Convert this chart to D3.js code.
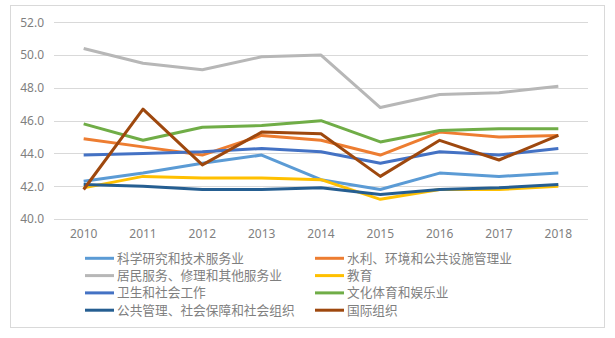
<!DOCTYPE html>
<html><head><meta charset="utf-8">
<script src="https://cdn.jsdelivr.net/npm/d3@7"></script>
<style>body{margin:0;background:#fff;}svg{display:block;}</style>
</head><body><svg id="c" width="615" height="338"></svg>
<script>
const years = ["2010","2011","2012","2013","2014","2015","2016","2017","2018"];
const yTicks = [40,42,44,46,48,50,52];
const seriesNames = ["科学研究和技术服务业","水利、环境和公共设施管理业","居民服务、修理和其他服务业","教育","卫生和社会工作","文化体育和娱乐业","公共管理、社会保障和社会组织","国际组织"];
const sciTech   = [42.3,42.8,43.4,43.9,42.4,41.8,42.8,42.6,42.8];
const water     = [44.9,44.4,43.9,45.1,44.8,43.9,45.3,45.0,45.1];
const resident  = [50.4,49.5,49.1,49.9,50.0,46.8,47.6,47.7,48.1];
const education = [41.9,42.6,42.5,42.5,42.4,41.2,41.8,41.8,42.0];
const health    = [43.9,44.0,44.1,44.3,44.1,43.4,44.1,43.9,44.3];
const culture   = [45.8,44.8,45.6,45.7,46.0,44.7,45.4,45.5,45.5];
const publicMgmt= [42.1,42.0,41.8,41.8,41.9,41.5,41.8,41.9,42.1];
const intlOrg   = [41.8,46.7,43.3,45.3,45.2,42.6,44.8,43.6,45.1];
const seriesValues = [sciTech,water,resident,education,health,culture,publicMgmt,intlOrg];
const colors = ["#5B9BD5","#ED7D31","#B7B7B7","#FFC000","#4472C4","#70AD47","#255E91","#9E480E"];

const svg = d3.select("#c");
svg.append("rect").attr("x",10.5).attr("y",5.5).attr("width",594).attr("height",322)
  .attr("fill","#fff").attr("stroke","#d9d9d9");

const L=54, R=588, T=22.3, B=219;
const x = d3.scaleBand().domain(years).range([L,R]);
const y = d3.scaleLinear().domain([40,52]).range([B,T]);
const cx = d => x(d)+x.bandwidth()/2;

svg.append("g").selectAll("line").data(yTicks).join("line")
  .attr("x1",L).attr("x2",R).attr("y1",d=>Math.round(y(d))+0.5).attr("y2",d=>Math.round(y(d))+0.5)
  .attr("stroke","#d9d9d9").attr("stroke-width",1);

const yAxis = svg.append("g").attr("transform",`translate(${L},0)`)
  .call(d3.axisLeft(y).tickValues(yTicks).tickFormat(d3.format(".1f")).tickSize(0).tickPadding(10));
yAxis.select(".domain").remove();
yAxis.selectAll("text").attr("font-family","'Noto Sans', sans-serif").attr("font-size",12).attr("fill","#7f7f7f");

const xAxis = svg.append("g").attr("transform",`translate(0,${B})`)
  .call(d3.axisBottom(x).tickSize(0).tickPadding(10));
xAxis.select(".domain").remove();
xAxis.selectAll("text").attr("font-family","'Noto Sans', sans-serif").attr("font-size",12).attr("fill","#7f7f7f");

const line = d3.line().x((d,i)=>cx(years[i])).y(d=>y(d));
svg.append("g").selectAll("path").data(seriesValues).join("path")
  .attr("d",d=>line(d)).attr("fill","none").attr("stroke",(d,i)=>colors[i])
  .attr("stroke-width",3).attr("stroke-linejoin","round");

const lg = svg.append("g");
seriesNames.forEach((n,i)=>{
  const col = i%2, row = Math.floor(i/2);
  const lx = col===0?85:315, ly = 258.3 + row*17.3;
  lg.append("line").attr("x1",lx).attr("x2",lx+29).attr("y1",ly).attr("y2",ly)
    .attr("stroke",colors[i]).attr("stroke-width",3);
  lg.append("text").attr("x",lx+32).attr("y",ly).attr("dy","0.36em")
    .attr("font-family","'Noto Sans CJK SC', sans-serif").attr("font-size",12.7)
    .attr("fill","#7f7f7f").text(n);
});
</script></body></html>
